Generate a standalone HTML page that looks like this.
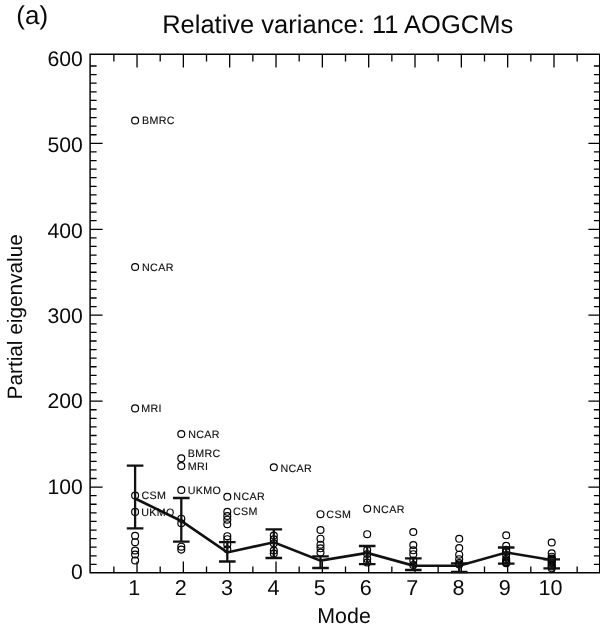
<!DOCTYPE html>
<html><head><meta charset="utf-8"><title>Relative variance</title>
<style>html,body{margin:0;padding:0;background:#fff;}body{width:600px;height:641px;overflow:hidden;font-family:"Liberation Sans",sans-serif;}svg{display:block;font-family:"Liberation Sans",sans-serif;will-change:transform;}text{fill:#0a0a0a;text-rendering:geometricPrecision;}</style>
</head><body>
<svg width="600" height="641" viewBox="0 0 600 641">
<rect width="600" height="641" fill="#fff"/>
<g stroke="#000" stroke-width="1.45" fill="none" stroke-linecap="butt">
<path d="M90.1 572.8 L90.1 54.2 L599.7 54.2 L599.7 573.45 M89.45 572.8 L599.7 572.8"/>
</g>
<g stroke="#000" stroke-width="1.3" fill="none">
<path d="M90.1 564.41h6.5M599.7 564.41h-5.8M90.1 555.81h6.5M599.7 555.81h-5.8M90.1 547.22h6.5M599.7 547.22h-5.8M90.1 538.63h6.5M599.7 538.63h-5.8M90.1 530.03h6.5M599.7 530.03h-5.8M90.1 521.44h6.5M599.7 521.44h-5.8M90.1 512.85h6.5M599.7 512.85h-5.8M90.1 504.26h6.5M599.7 504.26h-5.8M90.1 495.66h6.5M599.7 495.66h-5.8M90.1 487.07h12.5M599.7 487.07h-11.3M90.1 478.48h6.5M599.7 478.48h-5.8M90.1 469.88h6.5M599.7 469.88h-5.8M90.1 461.29h6.5M599.7 461.29h-5.8M90.1 452.7h6.5M599.7 452.7h-5.8M90.1 444.11h6.5M599.7 444.11h-5.8M90.1 435.51h6.5M599.7 435.51h-5.8M90.1 426.92h6.5M599.7 426.92h-5.8M90.1 418.33h6.5M599.7 418.33h-5.8M90.1 409.73h6.5M599.7 409.73h-5.8M90.1 401.14h12.5M599.7 401.14h-11.3M90.1 392.55h6.5M599.7 392.55h-5.8M90.1 383.95h6.5M599.7 383.95h-5.8M90.1 375.36h6.5M599.7 375.36h-5.8M90.1 366.77h6.5M599.7 366.77h-5.8M90.1 358.18h6.5M599.7 358.18h-5.8M90.1 349.58h6.5M599.7 349.58h-5.8M90.1 340.99h6.5M599.7 340.99h-5.8M90.1 332.4h6.5M599.7 332.4h-5.8M90.1 323.8h6.5M599.7 323.8h-5.8M90.1 315.21h12.5M599.7 315.21h-11.3M90.1 306.62h6.5M599.7 306.62h-5.8M90.1 298.02h6.5M599.7 298.02h-5.8M90.1 289.43h6.5M599.7 289.43h-5.8M90.1 280.84h6.5M599.7 280.84h-5.8M90.1 272.25h6.5M599.7 272.25h-5.8M90.1 263.65h6.5M599.7 263.65h-5.8M90.1 255.06h6.5M599.7 255.06h-5.8M90.1 246.47h6.5M599.7 246.47h-5.8M90.1 237.87h6.5M599.7 237.87h-5.8M90.1 229.28h12.5M599.7 229.28h-11.3M90.1 220.69h6.5M599.7 220.69h-5.8M90.1 212.09h6.5M599.7 212.09h-5.8M90.1 203.5h6.5M599.7 203.5h-5.8M90.1 194.91h6.5M599.7 194.91h-5.8M90.1 186.31h6.5M599.7 186.31h-5.8M90.1 177.72h6.5M599.7 177.72h-5.8M90.1 169.13h6.5M599.7 169.13h-5.8M90.1 160.54h6.5M599.7 160.54h-5.8M90.1 151.94h6.5M599.7 151.94h-5.8M90.1 143.35h12.5M599.7 143.35h-11.3M90.1 134.76h6.5M599.7 134.76h-5.8M90.1 126.16h6.5M599.7 126.16h-5.8M90.1 117.57h6.5M599.7 117.57h-5.8M90.1 108.98h6.5M599.7 108.98h-5.8M90.1 100.38h6.5M599.7 100.38h-5.8M90.1 91.79h6.5M599.7 91.79h-5.8M90.1 83.2h6.5M599.7 83.2h-5.8M90.1 74.61h6.5M599.7 74.61h-5.8M90.1 66.01h6.5M599.7 66.01h-5.8M113.87 54.2v7.4M113.87 572.8v-6.2M137.03 54.2v13.3M137.03 572.8v-11.3M160.19 54.2v7.4M160.19 572.8v-6.2M183.36 54.2v13.3M183.36 572.8v-11.3M206.52 54.2v7.4M206.52 572.8v-6.2M229.69 54.2v13.3M229.69 572.8v-11.3M252.86 54.2v7.4M252.86 572.8v-6.2M276.02 54.2v13.3M276.02 572.8v-11.3M299.19 54.2v7.4M299.19 572.8v-6.2M322.35 54.2v13.3M322.35 572.8v-11.3M345.51 54.2v7.4M345.51 572.8v-6.2M368.68 54.2v13.3M368.68 572.8v-11.3M391.84 54.2v7.4M391.84 572.8v-6.2M415.01 54.2v13.3M415.01 572.8v-11.3M438.17 54.2v7.4M438.17 572.8v-6.2M461.34 54.2v13.3M461.34 572.8v-11.3M484.5 54.2v7.4M484.5 572.8v-6.2M507.67 54.2v13.3M507.67 572.8v-11.3M530.84 54.2v7.4M530.84 572.8v-6.2M554 54.2v13.3M554 572.8v-11.3M577.16 54.2v7.4M577.16 572.8v-6.2"/>
</g>
<text x="16.34" y="24" font-size="26">(a)</text>
<text x="162.16" y="33.3" font-size="25.5">Relative variance: 11 AOGCMs</text>
<text x="71.08" y="578.7" font-size="21.2">0</text>
<text x="47.54" y="493.67" font-size="21.2">100</text>
<text x="47.54" y="408.34" font-size="21.2">200</text>
<text x="47.54" y="322.91" font-size="21.2">300</text>
<text x="47.54" y="237.73" font-size="21.2">400</text>
<text x="47.54" y="152.4" font-size="21.2">500</text>
<text x="47.54" y="65.9" font-size="21.2">600</text>
<text x="128.18" y="595" font-size="21.6">1</text>
<text x="174.79" y="595" font-size="21.6">2</text>
<text x="221.07" y="595" font-size="21.6">3</text>
<text x="267.45" y="595" font-size="21.6">4</text>
<text x="313.63" y="595" font-size="21.6">5</text>
<text x="359.8" y="595" font-size="21.6">6</text>
<text x="406.19" y="595" font-size="21.6">7</text>
<text x="452.41" y="595" font-size="21.6">8</text>
<text x="498.75" y="595" font-size="21.6">9</text>
<text x="538.6" y="595" font-size="21.6">10</text>
<text x="317.29" y="623.4" font-size="21.4">Mode</text>
<text transform="translate(22.4 399.46) rotate(-90)" font-size="20.8">Partial eigenvalue</text>
<g stroke="#000" stroke-width="1.2" fill="none">
<circle cx="135.1" cy="120.5" r="3.45"/>
<circle cx="135.1" cy="267" r="3.45"/>
<circle cx="135.1" cy="408.4" r="3.45"/>
<circle cx="135.1" cy="495.6" r="3.45"/>
<circle cx="135.1" cy="511.9" r="3.45"/>
<circle cx="135.1" cy="535.8" r="3.45"/>
<circle cx="135.1" cy="542.2" r="3.45"/>
<circle cx="135.1" cy="550.5" r="3.45"/>
<circle cx="135.1" cy="554.5" r="3.45"/>
<circle cx="135.1" cy="560.5" r="3.45"/>
<circle cx="181.3" cy="434" r="3.45"/>
<circle cx="181.3" cy="458.3" r="3.45"/>
<circle cx="181.3" cy="466" r="3.45"/>
<circle cx="181.3" cy="490" r="3.45"/>
<circle cx="181.3" cy="518.7" r="3.45"/>
<circle cx="181.3" cy="523.3" r="3.45"/>
<circle cx="181.3" cy="546.7" r="3.45"/>
<circle cx="181.3" cy="549.6" r="3.45"/>
<circle cx="227.3" cy="496.8" r="3.45"/>
<circle cx="227.3" cy="511.8" r="3.45"/>
<circle cx="227.3" cy="516" r="3.45"/>
<circle cx="227.3" cy="519.7" r="3.45"/>
<circle cx="227.3" cy="524.2" r="3.45"/>
<circle cx="227.3" cy="536.2" r="3.45"/>
<circle cx="227.3" cy="539.2" r="3.45"/>
<circle cx="227.3" cy="544.5" r="3.45"/>
<circle cx="227.3" cy="549.3" r="3.45"/>
<circle cx="273.8" cy="467.3" r="3.45"/>
<circle cx="273.8" cy="535.5" r="3.45"/>
<circle cx="273.8" cy="539.4" r="3.45"/>
<circle cx="273.8" cy="543.3" r="3.45"/>
<circle cx="273.8" cy="550.5" r="3.45"/>
<circle cx="273.8" cy="553.5" r="3.45"/>
<circle cx="320.5" cy="514.2" r="3.45"/>
<circle cx="320.5" cy="530" r="3.45"/>
<circle cx="320.5" cy="538.7" r="3.45"/>
<circle cx="320.5" cy="544.7" r="3.45"/>
<circle cx="320.5" cy="548.3" r="3.45"/>
<circle cx="320.5" cy="552.5" r="3.45"/>
<circle cx="367.2" cy="508.7" r="3.45"/>
<circle cx="367.2" cy="534.2" r="3.45"/>
<circle cx="367.2" cy="550" r="3.45"/>
<circle cx="367.2" cy="554" r="3.45"/>
<circle cx="367.2" cy="559" r="3.45"/>
<circle cx="367.2" cy="562.5" r="3.45"/>
<circle cx="413.3" cy="532" r="3.45"/>
<circle cx="413.3" cy="545" r="3.45"/>
<circle cx="413.3" cy="550.3" r="3.45"/>
<circle cx="413.3" cy="554.2" r="3.45"/>
<circle cx="413.3" cy="560.5" r="3.45"/>
<circle cx="413.3" cy="565" r="3.45"/>
<circle cx="459.2" cy="538.8" r="3.45"/>
<circle cx="459.2" cy="548" r="3.45"/>
<circle cx="459.2" cy="554.7" r="3.45"/>
<circle cx="459.2" cy="559.2" r="3.45"/>
<circle cx="459.2" cy="563" r="3.45"/>
<circle cx="459.2" cy="564.5" r="3.45"/>
<circle cx="506.2" cy="535.3" r="3.45"/>
<circle cx="506.2" cy="545.8" r="3.45"/>
<circle cx="506.2" cy="549.8" r="3.45"/>
<circle cx="506.2" cy="551" r="3.45"/>
<circle cx="506.2" cy="551.8" r="3.45"/>
<circle cx="506.2" cy="555" r="3.45"/>
<circle cx="506.2" cy="559" r="3.45"/>
<circle cx="506.2" cy="560.5" r="3.45"/>
<circle cx="506.2" cy="562" r="3.45"/>
<circle cx="506.2" cy="562.8" r="3.45"/>
<circle cx="506.2" cy="563.3" r="3.45"/>
<circle cx="551.7" cy="542.5" r="3.45"/>
<circle cx="551.7" cy="553.3" r="3.45"/>
<circle cx="551.7" cy="556.7" r="3.45"/>
<circle cx="551.7" cy="558.5" r="3.45"/>
<circle cx="551.7" cy="559.3" r="3.45"/>
<circle cx="551.7" cy="560" r="3.45"/>
<circle cx="551.7" cy="561" r="3.45"/>
<circle cx="551.7" cy="563" r="3.45"/>
<circle cx="551.7" cy="565" r="3.45"/>
<circle cx="551.7" cy="566.5" r="3.45"/>
<circle cx="551.7" cy="568.3" r="3.45"/>
</g>
<g stroke="#111" stroke-width="2.3" fill="none">
<path d="M135.1 465.7V528.3M126.8 465.7h16.6M126.8 528.3h16.6M181.3 498V541.7M173 498h16.6M173 541.7h16.6M227.3 542.1V561.5M219 542.1h16.6M219 561.5h16.6M273.8 529.4V558M265.5 529.4h16.6M265.5 558h16.6M320.5 556.3V568M312.2 556.3h16.6M312.2 568h16.6M367.2 546V564.2M358.9 546h16.6M358.9 564.2h16.6M413.3 558.3V570M405 558.3h16.6M405 570h16.6M459.2 563.3V572M450.9 563.3h16.6M450.9 572h16.6M506.2 547.5V563.7M497.9 547.5h16.6M497.9 563.7h16.6M551.7 559.4V568.3M543.4 559.4h16.6M543.4 568.3h16.6"/>
</g>
<polyline points="135.1,498.5 181.3,521 227.3,552.4 273.8,542.3 320.5,560.6 367.2,552.9 413.3,565.6 459.2,565.8 506.2,552.5 551.7,560" fill="none" stroke="#111" stroke-width="2.6" stroke-linejoin="miter"/>
<g letter-spacing="0.35" stroke="#111" stroke-width="0.12">
<text x="142.04" y="124.2" font-size="10.7">BMRC</text>
<text x="142.04" y="270.8" font-size="10.7">NCAR</text>
<text x="141.24" y="412.2" font-size="10.7">MRI</text>
<text x="141.56" y="499.3" font-size="10.7">CSM</text>
<text x="141.3" y="515.6" font-size="10.7">UKMO</text>
<text x="188.24" y="437.7" font-size="10.7">NCAR</text>
<text x="187.74" y="456.7" font-size="10.7">BMRC</text>
<text x="187.74" y="469.5" font-size="10.7">MRI</text>
<text x="187.8" y="493.7" font-size="10.7">UKMO</text>
<text x="233.34" y="499.9" font-size="10.7">NCAR</text>
<text x="233.06" y="514.8" font-size="10.7">CSM</text>
<text x="280.44" y="471.6" font-size="10.7">NCAR</text>
<text x="326.37" y="518" font-size="10.7">CSM</text>
<text x="373.04" y="512.9" font-size="10.7">NCAR</text>
</g>
</svg>
</body></html>
